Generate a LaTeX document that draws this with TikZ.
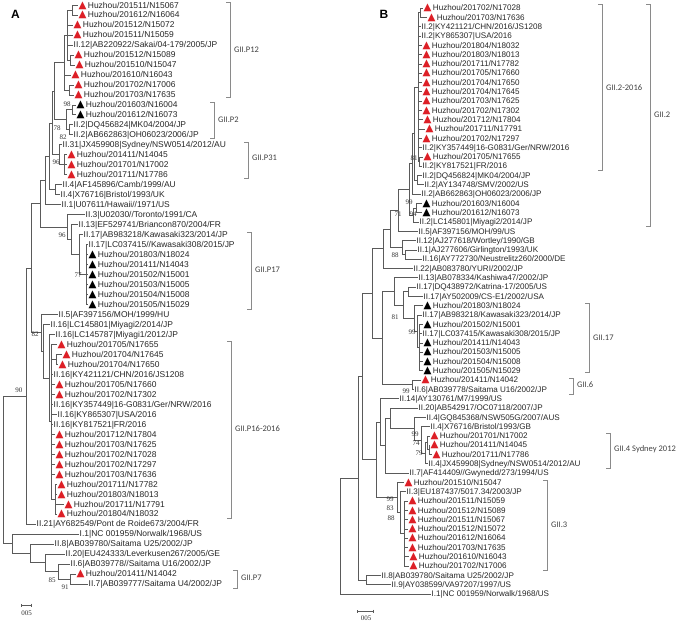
\documentclass[tikz,border=0pt]{standalone}
\usepackage{fontspec}
\setmainfont{Liberation Sans}
\newfontfamily\bootfont{Liberation Serif}
\newfontfamily\cladefont{Carlito}
\newfontfamily\trifont{DejaVu Sans}
\usetikzlibrary{arrows.meta,calc}
\definecolor{tred}{HTML}{DD1F26}
\definecolor{branchgray}{HTML}{5A5A5A}
\definecolor{brackgray}{HTML}{8A8A8A}
\def\rowA#1{5+9.98*(#1-1)}
\def\rowB#1{8+9.3*(#1-1)}
\newcommand\rtri{{\trifont\fontsize{10.3}{10}\selectfont\color{tred}▲}\hspace{1.3pt}}
\newcommand\ktri{{\trifont\fontsize{10.3}{10}\selectfont\color{black}▲}\hspace{1.3pt}}
% internal node of the tree: x, first child, last child
\newcommand\clade[4]{\path let \p1=(#3), \p2=(#4) in coordinate (#1) at (#2pt,{0.5*(\y1+\y2)});}

\begin{document}
\begin{tikzpicture}[x=1pt, y=-1pt, branch/.style={draw=branchgray, line width=0.6pt}]
    \tikzstyle{taxon}=[anchor=west, inner xsep=0.5pt, inner ysep=0pt, text depth=0pt, text=black!85]
    \tikzstyle{taxa}=[taxon, font=\fontsize{8.45}{9}\selectfont, text height=6pt]
    \tikzstyle{taxb}=[taxon, font=\fontsize{8.1}{9}\selectfont, text height=5.7pt]
    \tikzstyle{boot}=[inner sep=0pt, font=\bootfont\fontsize{7}{7}\selectfont, text=black!80]
    \tikzstyle{bracket}=[draw=brackgray, line width=0.6pt]
    \tikzstyle{cladelab}=[anchor=west, inner sep=0pt, font=\cladefont\fontsize{8.5}{9}\selectfont, text=black!75]
    \tikzstyle{panel}=[inner sep=0pt, font=\fontsize{12}{12}\selectfont\bfseries]
    \useasboundingbox (0,0) rectangle (677,622);

    \node[panel] (pA) at (15.5,14.5) {A};
    \node[panel] (pB) at (384,14.5) {B};

    % Panel A: the taxa
    \node[taxa] (a1) at (78,{\rowA{1}}) {\rtri Huzhou/201511/N15067};
    \node[taxa] (a2) at (78,{\rowA{2}}) {\rtri Huzhou/201612/N16064};
    \node[taxa] (a3) at (73,{\rowA{3}}) {\rtri Huzhou/201512/N15072};
    \node[taxa] (a4) at (73,{\rowA{4}}) {\rtri Huzhou/201511/N15059};
    \node[taxa] (a5) at (73,{\rowA{5}}) {II.12|AB220922/Sakai/04-179/2005/JP};
    \node[taxa] (a6) at (74,{\rowA{6}}) {\rtri Huzhou/201512/N15089};
    \node[taxa] (a7) at (75,{\rowA{7}}) {\rtri Huzhou/201510/N15047};
    \node[taxa] (a8) at (71,{\rowA{8}}) {\rtri Huzhou/201610/N16043};
    \node[taxa] (a9) at (74,{\rowA{9}}) {\rtri Huzhou/201702/N17006};
    \node[taxa] (a10) at (74,{\rowA{10}}) {\rtri Huzhou/201703/N17635};
    \node[taxa] (a11) at (76,{\rowA{11}}) {\ktri Huzhou/201603/N16004};
    \node[taxa] (a12) at (76,{\rowA{12}}) {\ktri Huzhou/201612/N16073};
    \node[taxa] (a13) at (73,{\rowA{13}}) {II.2|DQ456824|MK04/2004/JP};
    \node[taxa] (a14) at (73,{\rowA{14}}) {II.2|AB662863|OH06023/2006/JP};
    \node[taxa] (a15) at (62,{\rowA{15}}) {II.31|JX459908|Sydney/NSW0514/2012/AU};
    \node[taxa] (a16) at (67,{\rowA{16}}) {\rtri Huzhou/201411/N14045};
    \node[taxa] (a17) at (67,{\rowA{17}}) {\rtri Huzhou/201701/N17002};
    \node[taxa] (a18) at (67,{\rowA{18}}) {\rtri Huzhou/201711/N17786};
    \node[taxa] (a19) at (62,{\rowA{19}}) {II.4|AF145896/Camb/1999/AU};
    \node[taxa] (a20) at (60,{\rowA{20}}) {II.4|X76716|Bristol/1993/UK};
    \node[taxa] (a21) at (61,{\rowA{21}}) {II.1|U07611/Hawaii//1971/US};
    \node[taxa] (a22) at (85,{\rowA{22}}) {II.3|U02030//Toronto/1991/CA};
    \node[taxa] (a23) at (78,{\rowA{23}}) {II.13|EF529741/Briancon870/2004/FR};
    \node[taxa] (a24) at (83,{\rowA{24}}) {II.17|AB983218/Kawasaki323/2014/JP};
    \node[taxa] (a25) at (88,{\rowA{25}}) {II.17|LC037415//Kawasaki308/2015/JP};
    \node[taxa] (a26) at (88,{\rowA{26}}) {\ktri Huzhou/201803/N18024};
    \node[taxa] (a27) at (88,{\rowA{27}}) {\ktri Huzhou/201411/N14043};
    \node[taxa] (a28) at (88,{\rowA{28}}) {\ktri Huzhou/201502/N15001};
    \node[taxa] (a29) at (88,{\rowA{29}}) {\ktri Huzhou/201503/N15005};
    \node[taxa] (a30) at (88,{\rowA{30}}) {\ktri Huzhou/201504/N15008};
    \node[taxa] (a31) at (88,{\rowA{31}}) {\ktri Huzhou/201505/N15029};
    \node[taxa] (a32) at (58,{\rowA{32}}) {II.5|AF397156/MOH/1999/HU};
    \node[taxa] (a33) at (50,{\rowA{33}}) {II.16|LC145801|Miyagi2/2014/JP};
    \node[taxa] (a34) at (55,{\rowA{34}}) {II.16|LC145787|Miyagi1/2012/JP};
    \node[taxa] (a35) at (57,{\rowA{35}}) {\rtri Huzhou/201705/N17655};
    \node[taxa] (a36) at (62,{\rowA{36}}) {\rtri Huzhou/201704/N17645};
    \node[taxa] (a37) at (58,{\rowA{37}}) {\rtri Huzhou/201704/N17650};
    \node[taxa] (a38) at (53,{\rowA{38}}) {II.16|KY421121/CHN/2016/JS1208};
    \node[taxa] (a39) at (55,{\rowA{39}}) {\rtri Huzhou/201705/N17660};
    \node[taxa] (a40) at (55,{\rowA{40}}) {\rtri Huzhou/201702/N17302};
    \node[taxa] (a41) at (53,{\rowA{41}}) {II.16|KY357449|16-G0831/Ger/NRW/2016};
    \node[taxa] (a42) at (57,{\rowA{42}}) {II.16|KY865307|USA/2016};
    \node[taxa] (a43) at (53,{\rowA{43}}) {II.16|KY817521|FR/2016};
    \node[taxa] (a44) at (55,{\rowA{44}}) {\rtri Huzhou/201712/N17804};
    \node[taxa] (a45) at (55,{\rowA{45}}) {\rtri Huzhou/201703/N17625};
    \node[taxa] (a46) at (55,{\rowA{46}}) {\rtri Huzhou/201702/N17028};
    \node[taxa] (a47) at (55,{\rowA{47}}) {\rtri Huzhou/201702/N17297};
    \node[taxa] (a48) at (55,{\rowA{48}}) {\rtri Huzhou/201703/N17636};
    \node[taxa] (a49) at (57,{\rowA{49}}) {\rtri Huzhou/201711/N17782};
    \node[taxa] (a50) at (57,{\rowA{50}}) {\rtri Huzhou/201803/N18013};
    \node[taxa] (a51) at (64,{\rowA{51}}) {\rtri Huzhou/201711/N17791};
    \node[taxa] (a52) at (57,{\rowA{52}}) {\rtri Huzhou/201804/N18032};
    \node[taxa] (a53) at (36,{\rowA{53}}) {II.21|AY682549/Pont de Roide673/2004/FR};
    \node[taxa] (a54) at (79,{\rowA{54}}) {I.1|NC 001959/Norwalk/1968/US};
    \node[taxa] (a55) at (54,{\rowA{55}}) {II.8|AB039780/Saitama U25/2002/JP};
    \node[taxa] (a56) at (65,{\rowA{56}}) {II.20|EU424333/Leverkusen267/2005/GE};
    \node[taxa] (a57) at (70,{\rowA{57}}) {II.6|AB039778//Saitama U16/2002/JP};
    \node[taxa] (a58) at (76,{\rowA{58}}) {\rtri Huzhou/201411/N14042};
    \node[taxa] (a59) at (88,{\rowA{59}}) {II.7|AB039777/Saitama U4/2002/JP};

    % Panel A: inner nodes
    \clade{p12a}{72}{a1}{a2}
    \clade{p12c}{70}{a6}{a7}
    \clade{p12b}{67}{p12a}{p12c}
    \clade{p12d}{69}{a9}{a10}
    \clade{p12}{64}{p12b}{p12d}
    \clade{p2a}{72}{a11}{a12}
    \clade{p2b}{69}{a13}{a14}
    \clade{p2}{66}{p2a}{p2b}
    \clade{pp}{54}{p12}{p2}
    \clade{p31b}{64}{a16}{a18}
    \clade{p31}{59}{a15}{p31b}
    \clade{ua}{52}{pp}{p31}
    \clade{p4}{55}{a19}{a20}
    \clade{ub}{49}{ua}{p4}
    \clade{uc}{45}{ub}{a21}
    \clade{p17c}{86}{a25}{a31}
    \clade{p17b}{79}{a24}{p17c}
    \clade{p17a}{71}{a23}{p17b}
    \clade{p3}{67}{a22}{p17a}
    \clade{ud}{40}{uc}{p3}
    \clade{p16c}{56}{a36}{a37}
    \clade{p16d}{55}{a49}{a52}
    \clade{p16b}{51}{a35}{p16d}
    \clade{p16}{49}{a34}{p16b}
    \clade{p82}{43}{a33}{p16}
    \clade{q}{41}{a32}{p82}
    \clade{ni}{31}{ud}{q}
    \clade{n90}{26}{ni}{a53}
    \clade{o5}{70}{a58}{a59}
    \clade{o4}{58}{a57}{o5}
    \clade{o3}{45}{a56}{o4}
    \clade{o2}{30}{a55}{o3}
    \clade{o1}{12}{a54}{o2}
    \clade{ra}{3}{n90}{o1}

    % Panel A: branches
    \foreach \anc/\kids in {ra/{n90,o1}, n90/{ni,a53}, ni/{ud,q}, ud/{uc,p3}, uc/{ub,a21},
        ub/{ua,p4}, ua/{pp,p31}, pp/{p12,p2}, p12/{p12b,a8,p12d}, p12b/{p12a,a3,a4,a5,p12c},
        p12a/{a1,a2}, p12c/{a6,a7}, p12d/{a9,a10}, p2/{p2a,p2b}, p2a/{a11,a12}, p2b/{a13,a14},
        p31/{a15,p31b}, p31b/{a16,a17,a18}, p4/{a19,a20}, p3/{a22,p17a}, p17a/{a23,p17b},
        p17b/{a24,p17c}, p17c/{a25,a26,a27,a28,a29,a30,a31}, q/{a32,p82}, p82/{a33,p16},
        p16/{a34,p16b}, p16b/{a35,p16c,a38,a39,a40,a41,a42,a43,a44,a45,a46,a47,a48,p16d},
        p16c/{a36,a37}, p16d/{a49,a50,a51,a52}, o1/{a54,o2}, o2/{a55,o3}, o3/{a56,o4},
        o4/{a57,o5}, o5/{a58,a59}}
        \foreach \kid in \kids
            \draw[branch] (\anc) |- (\kid);

    % Panel B: the taxa
    \node[taxb] (b1) at (423,{\rowB{1}}) {\rtri Huzhou/201702/N17028};
    \node[taxb] (b2) at (427,{\rowB{2}}) {\rtri Huzhou/201703/N17636};
    \node[taxb] (b3) at (421,{\rowB{3}}) {II.2|KY421121/CHN/2016/JS1208};
    \node[taxb] (b4) at (421,{\rowB{4}}) {II.2|KY865307|USA/2016};
    \node[taxb] (b5) at (422,{\rowB{5}}) {\rtri Huzhou/201804/N18032};
    \node[taxb] (b6) at (422,{\rowB{6}}) {\rtri Huzhou/201803/N18013};
    \node[taxb] (b7) at (422,{\rowB{7}}) {\rtri Huzhou/201711/N17782};
    \node[taxb] (b8) at (422,{\rowB{8}}) {\rtri Huzhou/201705/N17660};
    \node[taxb] (b9) at (422,{\rowB{9}}) {\rtri Huzhou/201704/N17650};
    \node[taxb] (b10) at (422,{\rowB{10}}) {\rtri Huzhou/201704/N17645};
    \node[taxb] (b11) at (422,{\rowB{11}}) {\rtri Huzhou/201703/N17625};
    \node[taxb] (b12) at (422,{\rowB{12}}) {\rtri Huzhou/201702/N17302};
    \node[taxb] (b13) at (423,{\rowB{13}}) {\rtri Huzhou/201712/N17804};
    \node[taxb] (b14) at (425,{\rowB{14}}) {\rtri Huzhou/201711/N17791};
    \node[taxb] (b15) at (422,{\rowB{15}}) {\rtri Huzhou/201702/N17297};
    \node[taxb] (b16) at (422,{\rowB{16}}) {II.2|KY357449|16-G0831/Ger/NRW/2016};
    \node[taxb] (b17) at (423,{\rowB{17}}) {\rtri Huzhou/201705/N17655};
    \node[taxb] (b18) at (422,{\rowB{18}}) {II.2|KY817521|FR/2016};
    \node[taxb] (b19) at (422,{\rowB{19}}) {II.2|DQ456824|MK04/2004/JP};
    \node[taxb] (b20) at (424,{\rowB{20}}) {II.2|AY134748/SMV/2002/US};
    \node[taxb] (b21) at (421,{\rowB{21}}) {II.2|AB662863|OH06023/2006/JP};
    \node[taxb] (b22) at (422,{\rowB{22}}) {\ktri Huzhou/201603/N16004};
    \node[taxb] (b23) at (422,{\rowB{23}}) {\ktri Huzhou/201612/N16073};
    \node[taxb] (b24) at (419,{\rowB{24}}) {II.2|LC145801|Miyagi2/2014/JP};
    \node[taxb] (b25) at (418,{\rowB{25}}) {II.5|AF397156/MOH/99/US};
    \node[taxb] (b26) at (416,{\rowB{26}}) {II.12|AJ277618/Wortley/1990/GB};
    \node[taxb] (b27) at (417,{\rowB{27}}) {II.1|AJ277606/Girlington/1993/UK};
    \node[taxb] (b28) at (422,{\rowB{28}}) {II.16|AY772730/Neustrelitz260/2000/DE};
    \node[taxb] (b29) at (413,{\rowB{29}}) {II.22|AB083780/YURI/2002/JP};
    \node[taxb] (b30) at (418,{\rowB{30}}) {II.13|AB078334/Kashiwa47/2002/JP};
    \node[taxb] (b31) at (416,{\rowB{31}}) {II.17|DQ438972/Katrina-17/2005/US};
    \node[taxb] (b32) at (423,{\rowB{32}}) {II.17|AY502009/CS-E1/2002/USA};
    \node[taxb] (b33) at (423,{\rowB{33}}) {\ktri Huzhou/201803/N18024};
    \node[taxb] (b34) at (422,{\rowB{34}}) {II.17|AB983218/Kawasaki323/2014/JP};
    \node[taxb] (b35) at (423,{\rowB{35}}) {\ktri Huzhou/201502/N15001};
    \node[taxb] (b36) at (422,{\rowB{36}}) {II.17|LC037415/Kawasaki308/2015/JP};
    \node[taxb] (b37) at (423,{\rowB{37}}) {\ktri Huzhou/201411/N14043};
    \node[taxb] (b38) at (423,{\rowB{38}}) {\ktri Huzhou/201503/N15005};
    \node[taxb] (b39) at (423,{\rowB{39}}) {\ktri Huzhou/201504/N15008};
    \node[taxb] (b40) at (423,{\rowB{40}}) {\ktri Huzhou/201505/N15029};
    \node[taxb] (b41) at (421,{\rowB{41}}) {\rtri Huzhou/201411/N14042};
    \node[taxb] (b42) at (414,{\rowB{42}}) {II.6|AB039778/Saitama U16/2002/JP};
    \node[taxb] (b43) at (399,{\rowB{43}}) {II.14|AY130761/M7/1999/US};
    \node[taxb] (b44) at (418,{\rowB{44}}) {II.20|AB542917/OC07118/2007/JP};
    \node[taxb] (b45) at (426,{\rowB{45}}) {II.4|GQ845368/NSW505G/2007/AUS};
    \node[taxb] (b46) at (430,{\rowB{46}}) {II.4|X76716/Bristol/1993/GB};
    \node[taxb] (b47) at (430,{\rowB{47}}) {\rtri Huzhou/201701/N17002};
    \node[taxb] (b48) at (430,{\rowB{48}}) {\rtri Huzhou/201411/N14045};
    \node[taxb] (b49) at (432,{\rowB{49}}) {\rtri Huzhou/201711/N17786};
    \node[taxb] (b50) at (428,{\rowB{50}}) {II.4|JX459908|Sydney/NSW0514/2012/AU};
    \node[taxb] (b51) at (409,{\rowB{51}}) {II.7|AF414409//Gwynedd/273/1994/US};
    \node[taxb] (b52) at (404,{\rowB{52}}) {\rtri Huzhou/201510/N15047};
    \node[taxb] (b53) at (406,{\rowB{53}}) {II.3|EU187437/5017.34/2003/JP};
    \node[taxb] (b54) at (408,{\rowB{54}}) {\rtri Huzhou/201511/N15059};
    \node[taxb] (b55) at (408,{\rowB{55}}) {\rtri Huzhou/201512/N15089};
    \node[taxb] (b56) at (408,{\rowB{56}}) {\rtri Huzhou/201511/N15067};
    \node[taxb] (b57) at (408,{\rowB{57}}) {\rtri Huzhou/201512/N15072};
    \node[taxb] (b58) at (408,{\rowB{58}}) {\rtri Huzhou/201612/N16064};
    \node[taxb] (b59) at (408,{\rowB{59}}) {\rtri Huzhou/201703/N17635};
    \node[taxb] (b60) at (409,{\rowB{60}}) {\rtri Huzhou/201610/N16043};
    \node[taxb] (b61) at (409,{\rowB{61}}) {\rtri Huzhou/201702/N17006};
    \node[taxb] (b62) at (381,{\rowB{62}}) {II.8|AB039780/Saitama U25/2002/JP};
    \node[taxb] (b63) at (391,{\rowB{63}}) {II.9|AY038599/VA97207/1997/US};
    \node[taxb] (b64) at (431,{\rowB{64}}) {I.1|NC 001959/Norwalk/1968/US};

    % Panel B: inner nodes
    \clade{za}{420}{b1}{b2}
    \clade{zc}{419}{b17}{b18}
    \clade{z}{418}{za}{zc}
    \clade{y3}{417}{b19}{b20}
    \clade{y2}{414}{z}{y3}
    \clade{yy}{412}{y2}{b21}
    \clade{gc}{416}{b22}{b23}
    \clade{gb}{413}{gc}{b24}
    \clade{xx}{409}{yy}{gb}
    \clade{w}{398}{xx}{b25}
    \clade{g88b}{405}{b27}{b28}
    \clade{g88}{402}{b26}{g88b}
    \clade{v}{390}{w}{g88}
    \clade{u1}{383}{v}{b29}
    \clade{g17c}{419}{b35}{b40}
    \clade{g17b}{417}{b34}{g17c}
    \clade{g17m}{414}{b33}{g17b}
    \clade{g17a}{408}{b31}{b32}
    \clade{u4}{403}{g17a}{g17m}
    \clade{u3}{394}{b30}{u4}
    \clade{g6}{412}{b41}{b42}
    \clade{u2}{382}{u3}{g6}
    \clade{uu}{372}{u1}{u2}
    \clade{g4e}{429}{b48}{b49}
    \clade{g4d}{427}{b47}{g4e}
    \clade{g4c}{425}{g4d}{b50}
    \clade{g4b}{421}{b46}{g4c}
    \clade{g4}{414}{b45}{g4b}
    \clade{ld}{390}{b44}{g4}
    \clade{lc}{385}{ld}{b51}
    \clade{la}{380}{b43}{lc}
    \clade{lf}{404}{b54}{b61}
    \clade{le}{400}{b53}{lf}
    \clade{lb}{397}{b52}{le}
    \clade{ll}{376}{la}{lb}
    \clade{a2n}{362}{uu}{ll}
    \clade{g89}{366}{b62}{b63}
    \clade{a1n}{358}{a2n}{g89}
    \clade{rb}{340}{a1n}{b64}

    % Panel B: branches
    \foreach \anc/\kids in {rb/{a1n,b64}, a1n/{a2n,g89}, g89/{b62,b63}, a2n/{uu,ll}, uu/{u1,u2},
        u1/{v,b29}, v/{w,g88}, w/{xx,b25}, xx/{yy,gb}, yy/{y2,b21}, y2/{z,y3},
        z/{za,b3,b4,b5,b6,b7,b8,b9,b10,b11,b12,b13,b14,b15,b16,zc}, za/{b1,b2}, zc/{b17,b18},
        y3/{b19,b20}, gb/{gc,b24}, gc/{b22,b23}, g88/{b26,g88b}, g88b/{b27,b28},
        u2/{u3,g6}, u3/{b30,u4}, u4/{g17a,g17m}, g17a/{b31,b32}, g17m/{b33,g17b},
        g17b/{b34,g17c}, g17c/{b35,b36,b37,b38,b39,b40}, g6/{b41,b42}, ll/{la,lb},
        la/{b43,lc}, lc/{ld,b51}, ld/{b44,g4}, g4/{b45,g4b}, g4b/{b46,g4c}, g4c/{g4d,b50},
        g4d/{b47,g4e}, g4e/{b48,b49}, lb/{b52,le}, le/{b53,lf},
        lf/{b54,b55,b56,b57,b58,b59,b60,b61}}
        \foreach \kid in \kids
            \draw[branch] (\anc) |- (\kid);

    % Bootstrap values
    \foreach \nm/\x/\y/\val in {bA1/67/104/98, bA2/57/128/78, bA3/63/137/82, bA4/56/162/96,
        bA5/62/235/96, bA6/78/275/77, bA7/35/334/82, bA8/19/390/90, bA9/52/580/85, bA10/65/587/91,
        bB1/414/158/81, bB2/409/202/99, bB3/413/214/94, bB4/398/214/71, bB5/395/255/88,
        bB6/395/317/81, bB7/412/332/99, bB8/406/391/99, bB9/415/434/99, bB10/416/443/74,
        bB11/419/453/79, bB12/390/499/99, bB13/390/508/83, bB14/391/518/88}
        \node[boot] (\nm) at (\x,\y) {\val};

    % Genotype brackets
    \foreach \nm/\x/\t/\b/\ly/\txt in {P12/230/2/97/50/GII.P12, P2/214/102/138/120/GII.P2,
        P31/248/142/178/158/GII.P31, P17/251/232/309/270/GII.P17,
        P16/231/341/518/429/GII.P16-2016, P7/237/570/588/578/GII.P7,
        G2x/602/4/170/88/GII.2-2016, G2/650/4/226/115/GII.2, G17/589/303/372/338/GII.17,
        G6/573/378/394/385/GII.6, G4/610/433/468/449/GII.4 Sydney 2012, G3/547/480/570/525/GII.3}
    {
        \coordinate (\nm-t) at (\x,\t);
        \coordinate (\nm-b) at (\x,\b);
        \draw[bracket] ([xshift=-4pt]\nm-t) -- (\nm-t) -- (\nm-b) -- ([xshift=-4pt]\nm-b);
        \node[cladelab] (\nm-lab) at (\x+4,\ly) {\txt};
    }

    % Scale bars
    \coordinate (sbA-l) at (21,605);
    \coordinate (sbA-r) at (32,605);
    \draw[branch, {Bar[width=3pt]}-{Bar[width=3pt]}] (sbA-l) -- (sbA-r);
    \node[boot] (sbA-lab) at (26.5,613) {005};
    \coordinate (sbB-l) at (357,611);
    \coordinate (sbB-r) at (374,611);
    \draw[branch, {Bar[width=3pt]}-{Bar[width=3pt]}] (sbB-l) -- (sbB-r);
    \node[boot] (sbB-lab) at (366,618) {005};
\end{tikzpicture}
\end{document}
